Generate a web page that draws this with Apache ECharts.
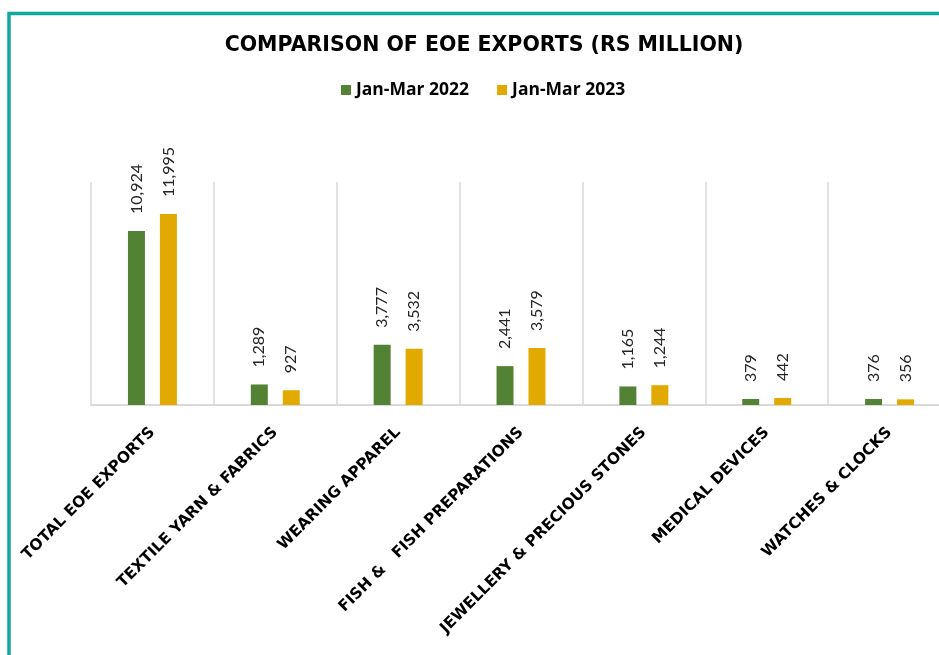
<!DOCTYPE html>
<html>
<head>
<meta charset="utf-8">
<script src="https://cdn.jsdelivr.net/npm/echarts@6/dist/echarts.min.js"></script>
<style>
html,body{margin:0;padding:0;background:#fff;}
#chart{width:939px;height:655px;}
</style>
</head>
<body>
<div id="chart"></div>
<script>
const categories = [
  'TOTAL EOE EXPORTS',
  'TEXTILE YARN & FABRICS',
  'WEARING APPAREL',
  'FISH &   FISH PREPARATIONS',
  'JEWELLERY & PRECIOUS STONES',
  'MEDICAL DEVICES',
  'WATCHES & CLOCKS'
];
const seriesNames = ['Jan-Mar 2022', 'Jan-Mar 2023'];
const values2022 = [10924, 1289, 3777, 2441, 1165, 379, 376];
const values2023 = [11995, 927, 3532, 3579, 1244, 442, 356];

const chart = echarts.init(document.getElementById('chart'), null, {renderer: 'canvas'});

const labelCfg = {
  show: true,
  position: 'top',
  rotate: 90,
  align: 'left',
  verticalAlign: 'middle',
  distance: 17,
  fontFamily: 'Lato',
  fontSize: 16,
  color: '#262626',
  formatter: p => p.value.toLocaleString('en-US')
};

chart.setOption({
  animation: false,
  backgroundColor: '#ffffff',
  title: {
    text: 'COMPARISON OF EOE EXPORTS (RS MILLION)',
    left: 479,
    textAlign: 'center',
    top: 30,
    textStyle: {fontFamily: 'DejaVu Sans', fontWeight: 'bold', fontSize: 20.5, color: '#000000'}
  },
  legend: {
    data: seriesNames,
    top: 76,
    left: 336,
    itemWidth: 10,
    itemHeight: 10,
    itemGap: 28,
    icon: 'rect',
    textStyle: {fontFamily: 'Open Sans', fontWeight: 'bold', fontSize: 17.5, color: '#000000', padding: [0,0,0,0]}
  },
  graphic: [{
    type: 'rect',
    shape: {x: 9, y: 13.5, width: 1200, height: 900},
    style: {fill: 'none', stroke: '#13A89E', lineWidth: 3.5},
    silent: true
  }],
  grid: {left: 91, width: 860, top: 182, height: 223, containLabel: false, outerBoundsMode: 'none'},
  xAxis: {
    type: 'category',
    data: categories,
    axisLine: {show: true, lineStyle: {color: '#D9D9D9', width: 2}},
    axisTick: {show: false},
    splitLine: {show: true, lineStyle: {color: '#D9D9D9', width: 1.5}},
    axisLabel: {
      interval: 0,
      rotate: 45,
      margin: 25,
      fontFamily: 'DejaVu Sans',
      fontWeight: 'bold',
      fontSize: 15.5,
      color: '#000000'
    }
  },
  yAxis: {
    type: 'value',
    min: 0,
    max: 14000,
    show: false,
    splitLine: {show: false}
  },
  series: [
    {
      name: seriesNames[0],
      type: 'bar',
      data: values2022,
      barWidth: 17,
      barGap: '88%',
      itemStyle: {color: '#548235'},
      label: labelCfg
    },
    {
      name: seriesNames[1],
      type: 'bar',
      data: values2023,
      barWidth: 17,
      barGap: '88%',
      itemStyle: {color: '#E2AA00'},
      label: labelCfg
    }
  ]
});
</script>
</body>
</html>
